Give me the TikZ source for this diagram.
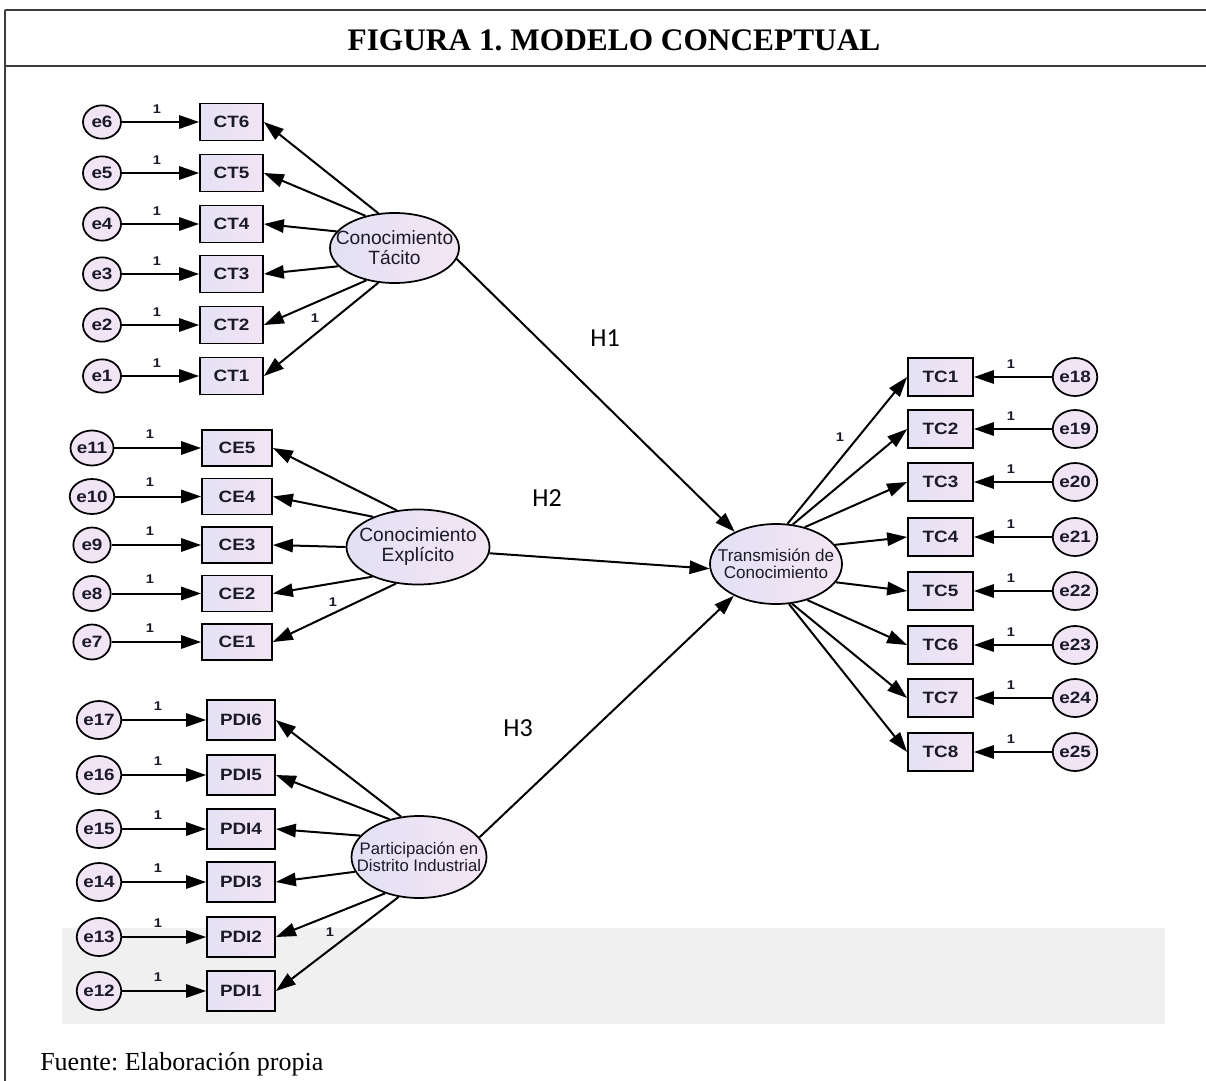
\documentclass[tikz,border=0pt]{standalone}
\usepackage{fontspec}
\setmainfont{Liberation Serif}
\newfontfamily\obsfont[FakeStretch=1.15]{Liberation Sans}
\newfontfamily\latfont{Liberation Sans}
\newfontfamily\hypfont{Carlito}
\usetikzlibrary{arrows.meta,shapes.geometric}
\definecolor{boxL}{RGB}{228,226,244}
\definecolor{boxR}{RGB}{242,228,244}
\definecolor{errfill}{RGB}{240,228,245}
\definecolor{latL}{RGB}{226,224,244}
\definecolor{latR}{RGB}{244,230,244}
\definecolor{inktext}{RGB}{26,26,40}
\definecolor{framecol}{RGB}{60,60,60}
\definecolor{bandgrey}{RGB}{240,240,240}
\frenchspacing
\begin{document}
\begin{tikzpicture}[x=0.75pt,y=-0.75pt,
  obsbox/.style={rectangle, draw=black, line width=1.3pt, left color=boxL, right color=boxR,
    inner sep=0pt, text=inktext, font=\obsfont\bfseries\fontsize{12.3}{13}\selectfont},
  errnode/.style={ellipse, draw=black, line width=1.3pt, fill=errfill, inner sep=0pt,
    text=inktext, font=\obsfont\bfseries\fontsize{12.3}{13}\selectfont},
  latnode/.style={ellipse, draw=black, line width=1.3pt, left color=latL, right color=latR,
    inner sep=0pt},
  lattext/.style={inner sep=0pt, align=center, text=inktext},
  arr/.style={line width=1.5pt, -{Triangle[length=15pt,width=10pt]}},
  one/.style={inner sep=0pt, text=inktext, font=\obsfont\bfseries\fontsize{9.5}{10}\selectfont},
  hyp/.style={inner sep=0pt, font=\hypfont\fontsize{19.5}{20}\selectfont}]

\useasboundingbox (0,0) rectangle (1206,1081);
\fill[white] (0,0) rectangle (1206,1081);

% light band behind the last two indicator rows
\fill[bandgrey] (62,928) rectangle (1165,1024);

% frame with title row
\draw[framecol, line width=1.5pt] (5,10) -- (1206,10);
\draw[framecol, line width=1.5pt] (5,66) -- (1206,66);
\draw[framecol, line width=1.5pt] (5,10) -- (5,1081);
\node[anchor=base, inner sep=0pt, font=\fontsize{23.5}{28}\selectfont\bfseries] (title) at (614,51)
  {FIGURA 1. MODELO CONCEPTUAL};
\node[anchor=base west, inner sep=0pt, font=\fontsize{19.5}{23}\selectfont] (fuente) at (40,1070)
  {Fuente: Elaboración propia};

% latent variables (outline first, label on top)
\node[latnode, minimum width=96.75pt, minimum height=52.5pt] (tac) at (394.5,248) {};
\node[lattext, font=\latfont\fontsize{14.4}{15}\selectfont] (tactxt) at (tac) {Conocimiento\\Tácito};
\node[latnode, minimum width=107.25pt, minimum height=56.25pt] (exp) at (418,547) {};
\node[lattext, font=\latfont\fontsize{14.4}{15}\selectfont] (exptxt) at (exp) {Conocimiento\\Explícito};
\node[latnode, minimum width=101.25pt, minimum height=61.5pt] (pdi) at (419,857) {};
\node[lattext, font=\latfont\fontsize{12.5}{13}\selectfont] (pditxt) at (pdi) {Participación en\\Distrito Industrial};
\node[latnode, minimum width=99pt, minimum height=60pt] (tra) at (776,564) {};
\node[lattext, font=\latfont\fontsize{12.8}{12.5}\selectfont] (tratxt) at (tra) {Transmisión de\\Conocimiento};

% Conocimiento Tácito indicators
\foreach \i/\e/\y/\a in {6/6/122/115,5/5/173/132,4/4/224/164,3/3/274/198,2/2/325/229,1/1/376/245}{
  \node[obsbox, minimum width=47.25pt, minimum height=27.75pt] (ct\i) at (231.5,\y) {CT\i};
  \node[errnode, minimum width=28.5pt, minimum height=25pt] (e\e) at (102,\y) {e\e};
  \draw[arr] (e\e.east) -- (ct\i.west);
  \node[one] (oct\i) at (157,\y-13) {1};
  \draw[arr] (tac.\a) -- (ct\i.east);
}
\node[one] (lct) at (315,318) {1};

% Conocimiento Explícito indicators
\foreach \i/\e/\y/\a in {5/11/448/120,4/10/496.5/146,3/9/545/180,2/8/593.5/213,1/7/642/239}{
  \node[obsbox, minimum width=52.5pt, minimum height=27pt] (ce\i) at (237,\y) {CE\i};
  \node[errnode, minimum width=28pt, minimum height=26.25pt] (e\e) at (92,\y) {e\e};
  \draw[arr] (e\e.east) -- (ce\i.west);
  \node[one] (oce\i) at (150,\y-14) {1};
  \draw[arr] (exp.\a) -- (ce\i.east);
}
\node[one] (lce) at (333,602) {1};

% Participación en Distrito Industrial indicators
\foreach \i/\e/\y/\a in {6/17/720/114,5/16/775/128,4/15/829/160,3/14/882/193,2/13/937/227,1/12/991/243}{
  \node[obsbox, minimum width=51pt, minimum height=30pt] (pd\i) at (241,\y) {PDI\i};
  \node[errnode, minimum width=31.5pt, minimum height=28.5pt] (e\e) at (99,\y) {e\e};
  \draw[arr] (e\e.east) -- (pd\i.west);
  \node[one] (opd\i) at (158,\y-14) {1};
  \draw[arr] (pdi.\a) -- (pd\i.east);
}
\node[one] (lpd) at (330,932) {1};

% Transmisión de Conocimiento indicators
\foreach \i/\e/\y/\a in {1/18/377/74,2/19/429/67,3/20/482/52,4/21/537/18,5/22/591/-17,6/23/645/-49,7/24/698/-68,8/25/752/-72}{
  \node[obsbox, minimum width=48.75pt, minimum height=28.5pt] (tc\i) at (940.5,\y) {TC\i};
  \node[errnode, minimum width=31.5pt, minimum height=28.5pt] (e\e) at (1075,\y) {e\e};
  \draw[arr] (e\e.west) -- (tc\i.east);
  \node[one] (otc\i) at (1011,\y-13) {1};
  \draw[arr] (tra.\a) -- (tc\i.west);
}
\node[one] (ltc) at (840,437) {1};

% structural paths
\draw[arr] (tac.-10) -- (tra.142);
\draw[arr] (exp.-5) -- (tra.184);
\draw[arr] (pdi.18) -- (tra.217);
\node[hyp] (h1) at (605,338) {H1};
\node[hyp] (h2) at (547,498) {H2};
\node[hyp] (h3) at (518,728) {H3};

\end{tikzpicture}
\end{document}
